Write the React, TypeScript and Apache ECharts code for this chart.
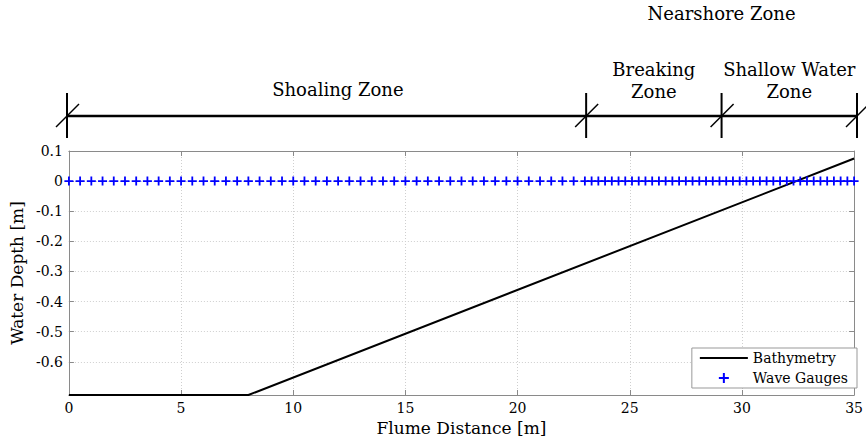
import React, { useEffect, useRef } from "react";
import * as echarts from "echarts";

// ---------- data ----------
const yTickValues = [-0.6, -0.5, -0.4, -0.3, -0.2, -0.1, 0, 0.1];
const bathyX = [0, 8, 35];
const bathyY = [-0.71, -0.71, 0.075];
const gaugeX = [
  0, 0.5, 1, 1.5, 2, 2.5, 3, 3.5, 4, 4.5, 5, 5.5, 6, 6.5, 7, 7.5, 8, 8.5, 9, 9.5,
  10, 10.5, 11, 11.5, 12, 12.5, 13, 13.5, 14, 14.5, 15, 15.5, 16, 16.5, 17, 17.5,
  18, 18.5, 19, 19.5, 20, 20.5, 21, 21.5, 22, 22.5,
  23, 23.3, 23.6, 23.9, 24.2, 24.5, 24.8, 25.1, 25.4, 25.7, 26, 26.3, 26.6, 26.9,
  27.2, 27.5, 27.8, 28.1, 28.4, 28.7, 29, 29.3, 29.6, 29.9, 30.2, 30.5, 30.8,
  31.1, 31.4, 31.7, 32, 32.3, 32.6, 32.9, 33.2, 33.5, 33.8, 34.1, 34.4, 34.7, 35,
];
const gaugeY = gaugeX.map(() => 0);
const zoneBounds = [0, 23, 29, 35];
const zoneLabels = ["Shoaling Zone", "Breaking\nZone", "Shallow Water\nZone", "Nearshore Zone"];
const zoneLabelX = [12, 26, 32, 29];
const zoneLabelRow = [89, 80, 80, 13];

const FONT = "DejaVu Serif";
const PLUS = "path://M4,0H6V4H10V6H6V10H4V6H0V4H4Z";
const LINE_ICON = "path://M0,0L0.1,0M0,4H48V6H0ZM0,10L0.1,10";

export default function App() {
  const ref = useRef<HTMLDivElement>(null);
  useEffect(() => {
    if (!ref.current) return;
    const chart = echarts.init(ref.current, undefined, { renderer: "svg" });
    const axisGray = "#8a8a8a";
    const option: any = {
      animation: false,
      backgroundColor: "#fff",
      textStyle: { fontFamily: FONT },
      grid: [
        { left: 67, right: 9, top: 151, bottom: 47 },
        { left: 67, right: 9, top: 0, height: 151 },
      ],
      xAxis: [
        {
          gridIndex: 0,
          type: "value",
          min: 0,
          max: 35,
          interval: 5,
          position: "bottom",
          name: "Flume Distance [m]",
          nameLocation: "middle",
          nameGap: 22,
          nameTextStyle: { fontFamily: FONT, fontSize: 17, color: "#000" },
          axisLine: { onZero: false, lineStyle: { color: axisGray } },
          axisTick: { inside: true, length: 5, lineStyle: { color: axisGray } },
          axisLabel: { fontFamily: FONT, fontSize: 14, color: "#000", margin: 6 },
          splitLine: { show: true, lineStyle: { color: "#cfcfcf", type: [1, 2] } },
        },
        {
          gridIndex: 0,
          type: "value",
          min: 0,
          max: 35,
          interval: 5,
          position: "top",
          axisLine: { onZero: false, lineStyle: { color: axisGray } },
          axisTick: { inside: true, length: 5, lineStyle: { color: axisGray } },
          axisLabel: { show: false },
          splitLine: { show: false },
        },
        { gridIndex: 1, type: "value", min: 0, max: 35, show: false },
      ],
      yAxis: [
        {
          gridIndex: 0,
          type: "value",
          min: -0.71,
          max: 0.1,
          position: "left",
          name: "Water Depth [m]",
          nameLocation: "middle",
          nameGap: 38,
          nameTextStyle: { fontFamily: FONT, fontSize: 17, color: "#000" },
          axisLine: { show: true, onZero: false, lineStyle: { color: axisGray } },
          axisTick: { show: true, inside: true, length: 5, customValues: yTickValues, lineStyle: { color: axisGray } },
          axisLabel: {
            fontFamily: FONT,
            fontSize: 14,
            color: "#000",
            margin: 6,
            customValues: yTickValues,
            formatter: (v: number) => String(Math.round(v * 10) / 10),
          },
          splitLine: { show: true, lineStyle: { color: "#cfcfcf", type: [1, 2] } },
        },
        {
          gridIndex: 0,
          type: "value",
          min: -0.71,
          max: 0.1,
          position: "right",
          axisLine: { show: true, onZero: false, lineStyle: { color: axisGray } },
          axisTick: { show: true, inside: true, length: 5, customValues: yTickValues, lineStyle: { color: axisGray } },
          axisLabel: { show: false },
          splitLine: { show: false },
        },
        { gridIndex: 1, type: "value", min: 0, max: 151, inverse: true, show: false },
      ],
      legend: {
        orient: "vertical",
        right: 9,
        top: 348,
        padding: [3, 9, 3, 8],
        itemGap: 6,
        itemWidth: 48,
        itemHeight: 10,
        borderColor: "#999",
        borderWidth: 1,
        borderRadius: 0,
        backgroundColor: "#fff",
        textStyle: { fontFamily: FONT, fontSize: 14, color: "#000" },
        data: [
          { name: "Bathymetry", icon: LINE_ICON, itemStyle: { color: "#000" } },
          { name: "Wave Gauges", icon: PLUS, itemStyle: { color: "#0000ff" } },
        ],
      },
      series: [
        {
          name: "Bathymetry",
          type: "line",
          xAxisIndex: 0,
          yAxisIndex: 0,
          data: bathyX.map((x, i) => [x, bathyY[i]]),
          showSymbol: false,
          symbol: "none",
          lineStyle: { color: "#000", width: 2 },
          itemStyle: { color: "#000" },
          z: 3,
        },
        {
          name: "Wave Gauges",
          type: "scatter",
          xAxisIndex: 0,
          yAxisIndex: 0,
          data: gaugeX.map((x, i) => [x, gaugeY[i]]),
          symbol: PLUS,
          symbolSize: 9,
          itemStyle: { color: "#0000ff", opacity: 1 },
          clip: false,
          z: 4,
        },
        {
          type: "line",
          xAxisIndex: 2,
          yAxisIndex: 2,
          data: [
            [zoneBounds[0], 116],
            [zoneBounds[zoneBounds.length - 1], 116],
          ],
          symbol: "none",
          lineStyle: { color: "#000", width: 2.5 },
          silent: true,
        },
        {
          type: "custom",
          xAxisIndex: 2,
          yAxisIndex: 2,
          clip: false,
          silent: true,
          data: zoneBounds.map((b) => [b, 116]),
          renderItem: (params: any, api: any) => {
            const p = api.coord([api.value(0), api.value(1)]);
            return {
              type: "group",
              children: [
                {
                  type: "line",
                  shape: { x1: p[0], y1: p[1] - 23, x2: p[0], y2: p[1] + 22 },
                  style: { stroke: "#000", lineWidth: 2 },
                },
                {
                  type: "line",
                  shape: { x1: p[0] - 11, y1: p[1] + 11, x2: p[0] + 12, y2: p[1] - 12 },
                  style: { stroke: "#000", lineWidth: 1.5 },
                },
              ],
            };
          },
        },
        {
          type: "custom",
          xAxisIndex: 2,
          yAxisIndex: 2,
          clip: false,
          silent: true,
          data: zoneLabelX.map((x, i) => [x, zoneLabelRow[i]]),
          renderItem: (params: any, api: any) => {
            const p = api.coord([api.value(0), api.value(1)]);
            return {
              type: "text",
              x: p[0],
              y: p[1],
              style: {
                text: zoneLabels[params.dataIndex],
                fontFamily: FONT,
                fontSize: 18,
                lineHeight: 22,
                fill: "#000",
                align: "center",
                verticalAlign: "middle",
              },
            };
          },
        },
      ],
    };
    chart.setOption(option);
    return () => chart.dispose();
  }, []);
  return <div ref={ref} style={{ width: 866, height: 442, position: "absolute", left: 0, top: 0 }} />;
}
